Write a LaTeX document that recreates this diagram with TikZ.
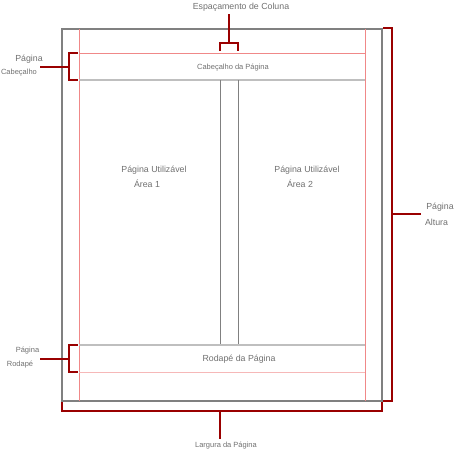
\documentclass[tikz,border=0pt]{standalone}
\usepackage{fontspec}
\setmainfont{Liberation Sans}
\definecolor{txt}{HTML}{707070}
\definecolor{darkred}{HTML}{9A0000}
\definecolor{pinkline}{HTML}{F08888}
\tikzset{pagebox/.style={draw=gray, line width=1.5pt},
  guide/.style={draw=pinkline, line width=0.8pt},
  hrule/.style={draw=gray!50, line width=1.4pt},
  colline/.style={draw=gray, line width=0.8pt},
  brk/.style={draw=darkred, line width=1.8pt, line join=miter},
  lbl/.style={text=txt, inner sep=0pt, font=\fontsize{8.8}{10}\selectfont},
  sml/.style={lbl, font=\fontsize{7.5}{9}\selectfont}}
\begin{document}
\begin{tikzpicture}[x=1pt, y=-1pt]
  \useasboundingbox (0,0) rectangle (456,453);
  % page outline and margins
  \draw[pagebox] (62,29) rectangle (382,401);
  \draw[guide] (79,29) -- (79,401) (365,29) -- (365,401);
  % header
  \draw[guide] (79,53) -- (365,53);
  \draw[hrule] (79,80) -- (365,80);
  % column gap
  \draw[colline] (220,80) -- (220,345) (238,80) -- (238,345);
  % footer
  \draw[hrule] (79,345) -- (365,345);
  \draw[guide, draw=pinkline!60] (79,372) -- (365,372);
  % texts inside the page
  \node[sml] (hdr) at (233,68) {Cabeçalho da Página};
  \node[lbl] (usea) at (154,170) {Página Utilizável};
  \node[lbl] (areaa) at (147,184) {Área 1};
  \node[lbl] (useb) at (307,170) {Página Utilizável};
  \node[lbl] (areab) at (300,184) {Área 2};
  \node[lbl] (ftr) at (239,359) {Rodapé da Página};
  % brackets
  \draw[brk] (220,51) -- (220,43) -- (238,43) -- (238,51) (229,43) -- (229,14);
  \draw[brk] (78,53) -- (69,53) -- (69,80) -- (78,80) (69,67) -- (40,67);
  \draw[brk] (78,345) -- (69,345) -- (69,372) -- (78,372) (69,359) -- (40,359);
  \draw[brk] (383,28) -- (392,28) -- (392,401) -- (383,401) (392,214) -- (421,214);
  \draw[brk] (62,402) -- (62,411) -- (382,411) -- (382,402) (220,411) -- (220,439);
  % bracket labels
  \node[lbl] (gap) at (241,7) {Espaçamento de Coluna};
  \node[lbl] (hdrp) at (29,59) {Página};
  \node[sml] (hdrc) at (19,73) {Cabeçalho};
  \node[sml] (ftrp) at (27.5,351) {Página};
  \node[sml] (ftrr) at (20,365) {Rodapé};
  \node[lbl] (htp) at (440,207) {Página};
  \node[lbl] (hta) at (436.5,222) {Altura};
  \node[sml] (wd) at (226,446) {Largura da Página};
\end{tikzpicture}
\end{document}
